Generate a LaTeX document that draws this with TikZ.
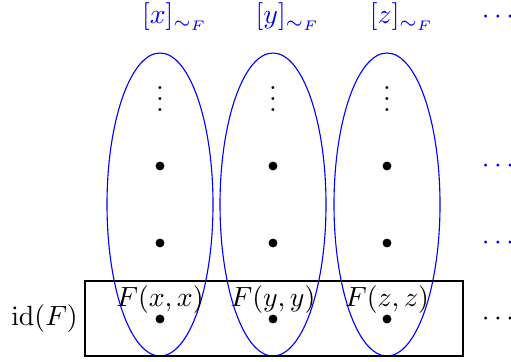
\documentclass[tikz,border=0pt]{standalone}
\begin{document}
\begin{tikzpicture}[x=0.36pt,y=-0.36pt,
  pt/.style={circle,fill=black,inner sep=0pt,minimum size=3.2pt},
  cls/.style={draw=blue,ellipse-ish},
  ellipse-ish/.style={},
  lbl/.style={inner sep=0pt,text=blue},
  box/.style={draw=black,line width=0.8pt}]
\useasboundingbox (0,0) rectangle (511,362);
% equivalence classes
\foreach \c/\n in {160/x,273/y,387/z}{
  \draw[blue,line width=0.4pt] (\c,204.5) ellipse [x radius=53,y radius=151.5];
}
% box
\node[box,minimum width=378*0.36pt,minimum height=75*0.36pt,inner sep=0pt] (idbox) at (274,318.5) {};
\node[anchor=east,inner sep=2pt] (idlbl) at (idbox.west) {$\mathrm{id}(F)$};
% points
\foreach \c/\n in {160/x,273/y,387/z}{
  \node (v\n) at (\c,91) {$\vdots$};
  \node[pt] (a\n) at (\c,166) {};
  \node[pt] (b\n) at (\c,243) {};
  \node[pt] (d\n) at (\c,319) {};
  \node[inner sep=0pt] (f\n) at (\c,300) {$F(\n,\n)$};
  \node[lbl] (t\n) at (\c+15,17) {$[\n]_{\sim_F}$};
}
\node[lbl] (tdots) at (498,17) {$\cdots$};
\node[lbl] (adots) at (498,166) {$\cdots$};
\node[lbl] (bdots) at (498,243) {$\cdots$};
\node[inner sep=0pt] (ddots) at (498,319) {$\cdots$};
\end{tikzpicture}
\end{document}
